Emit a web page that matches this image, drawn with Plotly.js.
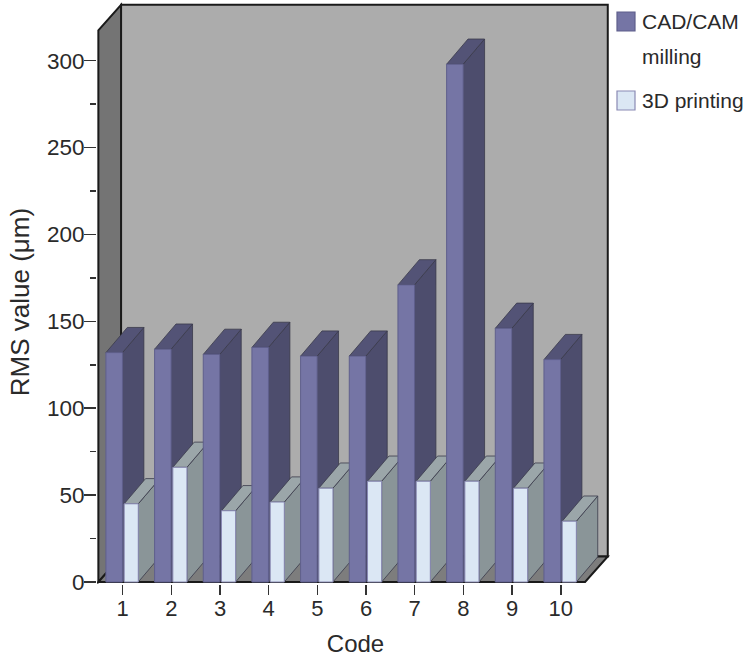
<!DOCTYPE html>
<html>
<head>
<meta charset="utf-8">
<script src="https://cdn.plot.ly/plotly-3.0.1.min.js"></script>
<style>html,body{margin:0;padding:0;background:#fff;}#chart{width:749px;height:663px;}</style>
</head>
<body>
<div id="chart"></div>
<script>
// ---- data ----
var codes = [1, 2, 3, 4, 5, 6, 7, 8, 9, 10];
var codeLabels = ['1', '2', '3', '4', '5', '6', '7', '8', '9', '10'];
var cadcam = [132, 134, 131, 135, 130, 130, 171, 298, 146, 128];
var printing3d = [45, 66, 41, 46, 54, 58, 58, 58, 54, 35];
var seriesNames = ['CAD/CAM milling', '3D printing'];
var legendLines = [['CAD/CAM', 'milling'], ['3D printing']];
var yTickVals = [0, 50, 100, 150, 200, 250, 300];
var yMinorVals = [25, 75, 125, 175, 225, 275];
var xTitle = 'Code';
var yTitle = 'RMS value (μm)';

// ---- styling / geometry ----
var cadFront = '#7575a5', cadSide = '#4d4d6d', cadTop = '#535376', cadLine = '#5f5f8c';
var pFront = '#dbe7f4', pSide = '#8a9598', pTop = '#9ba6a9', pLine = '#8a8ab4';
var cadOffset = -0.345, cadWidth = 0.34;
var pOffset = 0.03, pWidth = 0.29;
var bdx = 0.44, bdy = 14.5;           // bar depth (data units)
var x0 = 0.5, x1 = 10.5;              // front left / right of floor
var wdx = 0.466, wdy = 14.7;          // wall depth
var wallTop = 317.5;                  // front top of left wall

var W = 749, H = 663, M = {l: 97, r: 135, t: 2, b: 79};
var PW = W - M.l - M.r, PH = H - M.t - M.b;
function px2paperX(px) { return (px - M.l) / PW; }
function px2paperY(py) { return (H - M.b - py) / PH; }

function P(pts) {
  return 'M' + pts.map(function (p) { return p[0] + ',' + p[1]; }).join('L') + 'Z';
}
function shape(path, fill, lw, lc) {
  return {type: 'path', xref: 'x', yref: 'y', layer: 'below', path: path,
          fillcolor: fill, line: {width: lw, color: lc || '#111'}};
}

var shapes = [];
// back wall
shapes.push(shape(P([[x0 + wdx, wdy], [x1 + wdx, wdy], [x1 + wdx, wallTop + wdy], [x0 + wdx, wallTop + wdy]]), '#acacac', 2, '#1a1a1a'));
// left wall
shapes.push(shape(P([[x0, 0], [x0, wallTop], [x0 + wdx, wallTop + wdy], [x0 + wdx, wdy]]), '#747474', 2, '#1a1a1a'));
// floor
shapes.push(shape(P([[x0, 0], [x1, 0], [x1 + wdx, wdy], [x0 + wdx, wdy]]), '#7d7d7d', 2, '#1a1a1a'));

// 3D side and top faces derived from the data
function faces(xl, xr, h, side, top) {
  shapes.push(shape(P([[xr, 0], [xr, h], [xr + bdx, h + bdy], [xr + bdx, bdy]]), side, 0.8, '#3a3a4a'));
  shapes.push(shape(P([[xl, h], [xr, h], [xr + bdx, h + bdy], [xl + bdx, h + bdy]]), top, 0.8, '#3a3a4a'));
}
for (var i = 0; i < codes.length; i++) {
  var c = codes[i];
  faces(c + cadOffset, c + cadOffset + cadWidth, cadcam[i], cadSide, cadTop);
  faces(c + pOffset, c + pOffset + pWidth, printing3d[i], pSide, pTop);
}

var font = 'Liberation Sans, Arial, sans-serif';
var txtColor = '#2a2a2a';

// legend (drawn as paper shapes + text)
var legendItems = [
  {fill: cadFront, line: cadLine, box: [617, 12, 635, 31], lines: legendLines[0], ys: [22, 56]},
  {fill: pFront, line: pLine, box: [617, 91, 635, 110], lines: legendLines[1], ys: [101]}
];
var annotations = [];
legendItems.forEach(function (it) {
  shapes.push({type: 'rect', xref: 'paper', yref: 'paper', layer: 'above',
    x0: px2paperX(it.box[0]), x1: px2paperX(it.box[2]),
    y0: px2paperY(it.box[3]), y1: px2paperY(it.box[1]),
    fillcolor: it.fill, line: {color: it.line, width: 1.2}});
  it.lines.forEach(function (t, k) {
    annotations.push({xref: 'paper', yref: 'paper', x: px2paperX(640), y: px2paperY(it.ys[k]),
      xanchor: 'left', yanchor: 'middle', showarrow: false, text: t,
      font: {family: font, size: 21, color: txtColor}});
  });
});
// y-axis title, centred on the wall height
annotations.push({xref: 'paper', yref: 'y', x: px2paperX(20), y: 161, xanchor: 'center', yanchor: 'middle',
  textangle: -90, showarrow: false, text: yTitle, font: {family: font, size: 26, color: txtColor}});

var traces = [
  {type: 'bar', name: seriesNames[0], x: codes, y: cadcam, offset: cadOffset, width: cadWidth,
   marker: {color: cadFront, line: {color: cadLine, width: 1}}, hoverinfo: 'x+y'},
  {type: 'bar', name: seriesNames[1], x: codes, y: printing3d, offset: pOffset, width: pWidth,
   marker: {color: pFront, line: {color: pLine, width: 1}}, hoverinfo: 'x+y'}
];

var layout = {
  width: W, height: H,
  margin: {l: M.l, r: M.r, t: M.t, b: M.b, pad: 0},
  paper_bgcolor: '#ffffff', plot_bgcolor: 'rgba(0,0,0,0)',
  barmode: 'overlay',
  showlegend: false,
  xaxis: {range: [0.472, 11.094], tickmode: 'array', tickvals: codes, ticktext: codeLabels,
          ticks: 'outside', ticklen: 10, tickwidth: 1.5, tickcolor: '#333',
          ticklabelstandoff: -5,
          showgrid: false, zeroline: false, showline: false,
          tickfont: {family: font, size: 22, color: txtColor},
          title: {text: xTitle, font: {family: font, size: 24, color: txtColor}, standoff: 14}},
  yaxis: {range: [-1.151, 333.8], tickmode: 'array', tickvals: yTickVals,
          ticks: 'outside', ticklen: 12, tickwidth: 1.5, tickcolor: '#333',
          ticklabelstandoff: -5,
          minor: {tickmode: 'array', tickvals: yMinorVals, ticks: 'outside', ticklen: 6, tickwidth: 1.5, tickcolor: '#333'},
          showgrid: false, zeroline: false, showline: false,
          tickfont: {family: font, size: 22.5, color: txtColor}},
  shapes: shapes,
  annotations: annotations
};

Plotly.newPlot('chart', traces, layout, {displayModeBar: false, staticPlot: true});
</script>
</body>
</html>
